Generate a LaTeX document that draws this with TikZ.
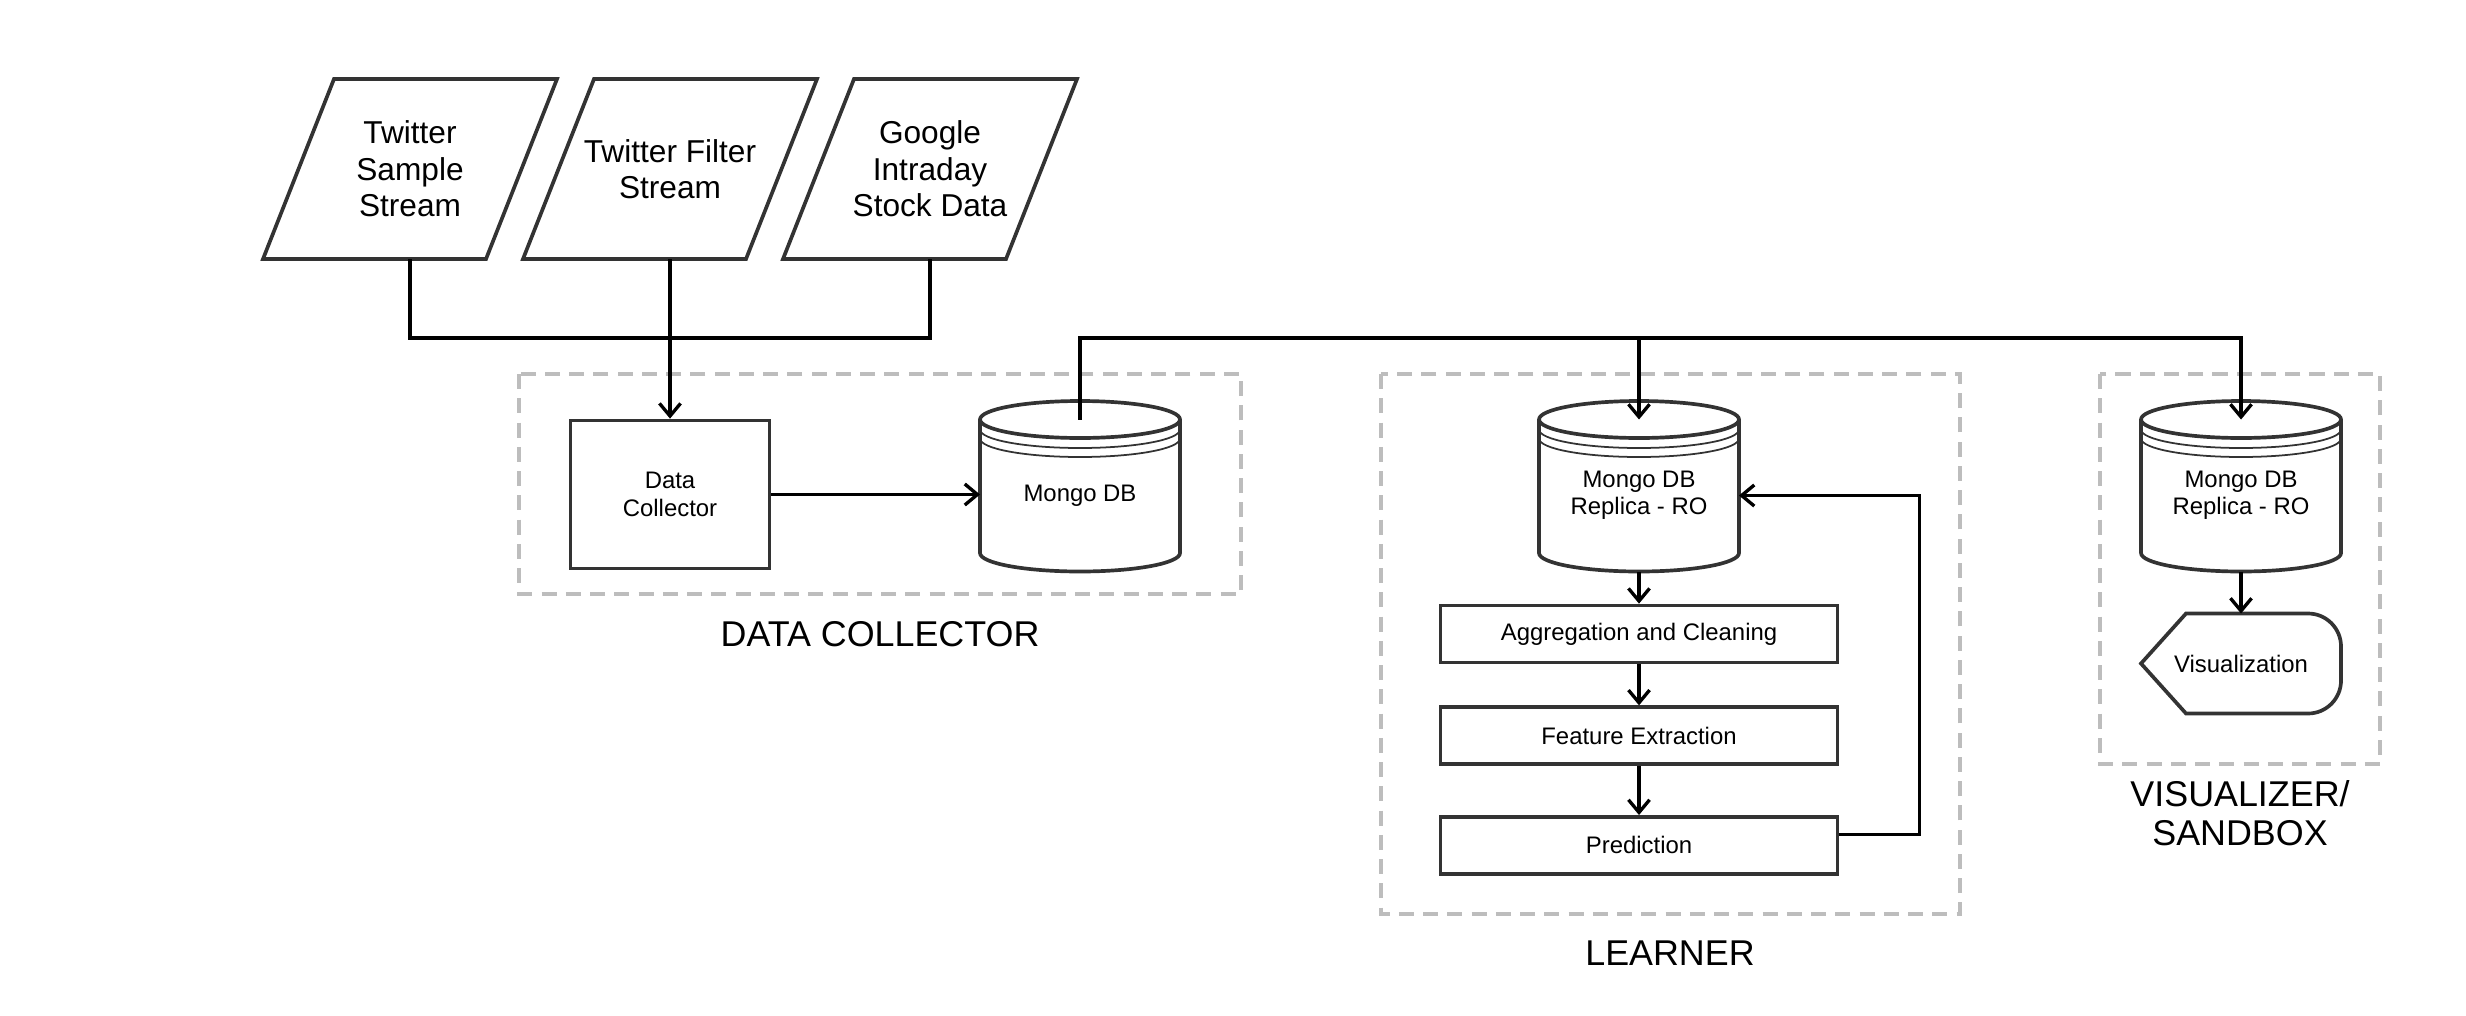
\documentclass[tikz,border=0pt]{standalone}
\usepackage{fontspec}
\setmainfont{Liberation Sans}
\usetikzlibrary{arrows.meta,positioning}

\definecolor{boxgray}{HTML}{333333}
\definecolor{dashgray}{HTML}{BDBDBD}

\tikzset{
  source/.style={minimum width=2.94cm, minimum height=1.8cm, align=center,
    inner sep=0pt, outer sep=0pt, font=\fontsize{9}{10.4}\selectfont},
  procbox/.style={draw=boxgray, line width=1.05pt, align=center, inner sep=0pt,
    font=\fontsize{6.8}{7.8}\selectfont},
  dbnode/.style={minimum width=2cm, minimum height=1.52cm, align=center,
    inner sep=0pt, outer sep=0pt, font=\fontsize{6.8}{7.8}\selectfont},
  group/.style={draw=dashgray, line width=1pt, dash pattern=on 4.3pt off 2.6pt},
  grouplabel/.style={align=center, font=\fontsize{10.2}{11}\selectfont},
  link/.style={line width=0.95pt},
  flow/.style={link, -{Straight Barb[length=3.6pt,width=6pt]}},
}

% slanted input box round a source node
\newcommand{\drawsource}[1]{%
  \draw[boxgray, line width=1.05pt] (#1.south west) -- ([xshift=0.71cm]#1.north west)
    -- (#1.north east) -- ([xshift=-0.71cm]#1.south east) -- cycle;
}

% cylinder with a ribbed lid round a db node
\newcommand{\drawdb}[1]{%
  \draw[boxgray, line width=1.05pt] (#1.north west) -- ([yshift=0.185cm]#1.south west)
    arc[start angle=180, end angle=360, x radius=1cm, y radius=0.185cm]
    -- (#1.north east)
    arc[start angle=0, end angle=180, x radius=1cm, y radius=0.185cm]
    arc[start angle=180, end angle=360, x radius=1cm, y radius=0.185cm];
  \draw[boxgray, line width=0.5pt] ([yshift=-0.1cm]#1.north west)
    arc[start angle=180, end angle=360, x radius=1cm, y radius=0.185cm];
  \draw[boxgray, line width=0.5pt] ([yshift=-0.19cm]#1.north west)
    arc[start angle=180, end angle=360, x radius=1cm, y radius=0.185cm];
}

\begin{document}
\begin{tikzpicture}
    \useasboundingbox (0,0) rectangle (24.66,10.15);

    % sources
    \node[source] (p1) at (4.10, 8.46) {Twitter\\Sample\\Stream};
    \node[source] (p2) at (6.70, 8.46) {Twitter Filter\\Stream};
    \node[source] (p3) at (9.30, 8.46) {Google\\Intraday\\Stock Data};
    \drawsource{p1}
    \drawsource{p2}
    \drawsource{p3}

    % data collector
    \draw[group] (5.19,6.41) rectangle (12.41,4.21);
    \node[procbox, minimum width=1.99cm, minimum height=1.48cm] (dc) at (6.70, 5.205) {Data\\Collector};
    \node[dbnode] (mongo) at (10.80, 5.195) {Mongo DB};
    \drawdb{mongo}
    \node[grouplabel] (dclabel) at (8.80, 3.81) {DATA COLLECTOR};

    % learner
    \draw[group] (13.81,6.41) rectangle (19.60,1.01);
    \node[dbnode] (learndb) at (16.39, 5.195) {Mongo DB\\Replica - RO};
    \drawdb{learndb}
    \node[procbox, minimum width=3.97cm, minimum height=0.57cm] (agg) at (16.39, 3.81) {Aggregation and Cleaning};
    \node[procbox, minimum width=3.97cm, minimum height=0.57cm, below=0.41cm of agg] (feat) {Feature Extraction};
    \node[procbox, minimum width=3.97cm, minimum height=0.57cm, below=0.49cm of feat] (pred) {Prediction};
    \node[grouplabel] (learnlabel) at (16.70, 0.62) {LEARNER};

    % visualizer
    \draw[group] (21.00,6.41) rectangle (23.80,2.51);
    \node[dbnode] (visdb) at (22.41, 5.195) {Mongo DB\\Replica - RO};
    \drawdb{visdb}
    \node[dbnode, minimum height=1cm] (vis) at (22.41, 3.515) {Visualization};
    \draw[boxgray, line width=1.05pt] (vis.west) -- ([xshift=0.45cm]vis.north west)
        -- ([xshift=-0.33cm]vis.north east) arc[start angle=90, end angle=0, radius=0.33cm]
        -- ([yshift=0.33cm]vis.south east) arc[start angle=0, end angle=-90, radius=0.33cm]
        -- ([xshift=0.45cm]vis.south west) -- cycle;
    \node[grouplabel] (vislabel) at (22.40, 2.02) {VISUALIZER/\\SANDBOX};

    % connectors
    \coordinate (bus) at (0, 6.77);
    \draw[link] (p1.south) -- (p1.south |- bus) -- (p3.south |- bus) -- (p3.south);
    \draw[flow] (p2.south) -- (dc.north);
    \draw[flow] (dc.east) -- (dc.east -| mongo.west);
    \draw[flow] (mongo.north) -- (mongo.north |- bus) -| (visdb.north);
    \draw[flow] (learndb.north |- bus) -- (learndb.north);
    \draw[flow] (learndb.south) -- (agg.north);
    \draw[flow] (agg) -- (feat);
    \draw[flow] (feat) -- (pred);
    \draw[flow] ([yshift=0.11cm]pred.east) -- ++(0.8,0) |- (learndb.east);
    \draw[flow] (visdb.south) -- (vis.north);
\end{tikzpicture}
\end{document}
